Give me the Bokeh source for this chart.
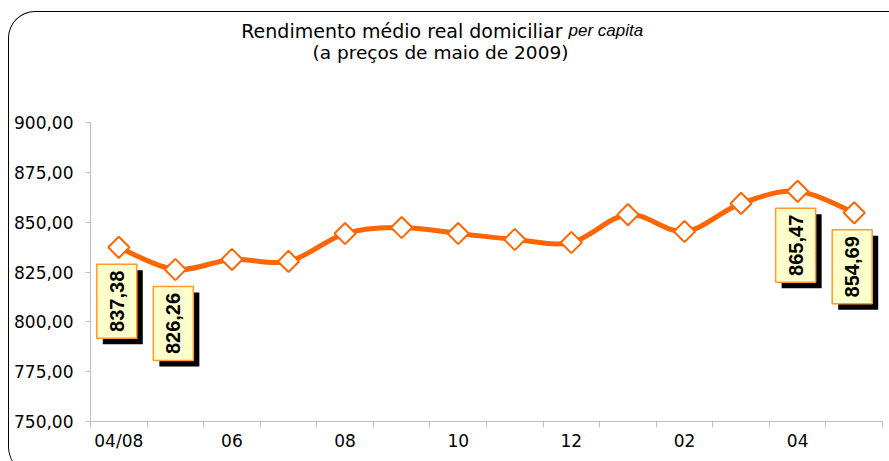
import numpy as np
from bokeh.plotting import figure
from bokeh.layouts import column
from bokeh.models import FixedTicker, Range1d, InlineStyleSheet
from bokeh.core.properties import value
from bokeh.embed import file_html
from bokeh.resources import INLINE

# ---- data ----
months = ["04/08", "05", "06", "07", "08", "09", "10", "11", "12", "01", "02", "03", "04", "05"]
income = [837.38, 826.26, 831.3, 830.3, 844.3, 847.3, 844.3, 841.3, 839.8, 853.8, 845.3, 859.4, 865.47, 854.69]
labeled_idx = [0, 1, 12, 13]
label_texts = ["837,38", "826,26", "865,47", "854,69"]
x_tick_idx = [0, 2, 4, 6, 8, 10, 12]
y_ticks = [750, 775, 800, 825, 850, 875, 900]
y_tick_labels = ["750,00", "775,00", "800,00", "825,00", "850,00", "875,00", "900,00"]
title_main = "Rendimento médio real domiciliar"
title_italic = "per capita"
title_sub = "(a preços de maio de 2009)"

# ---- geometry ----
W = 889
TH = 100           # title strip height
H = 361            # main chart height
FL, FT = 90, 22
FW, FH = 792, 299
X0, X1 = -0.5, len(months) - 0.5
Y0, Y1 = 750, 900
ux = FW / (X1 - X0)
uy = FH / (Y1 - Y0)

ORANGE = "#FF6600"
AXIS_GREY = "#BFBFBF"

# ---- title strip (same horizontal frame as the chart; x in page pixels) ----
t = figure(width=W, height=TH, x_range=Range1d(FL, FL + FW), y_range=Range1d(TH, 0),
           min_border_left=FL, min_border_right=W - FL - FW, min_border_top=0,
           min_border_bottom=0, x_axis_type=None, y_axis_type=None,
           output_backend="svg", toolbar_location=None)
t.outline_line_color = None
t.xgrid.visible = False
t.ygrid.visible = False
t.text(x=[562], y=[30], text=[title_main], text_align="right", text_baseline="middle",
       text_font=value("DejaVu Sans"), text_font_size="19px", text_color="black")
t.text(x=[568], y=[30], text=[title_italic], text_align="left", text_baseline="middle",
       text_font=value("Liberation Sans"), text_font_style="italic",
       text_font_size="17px", text_color="black")
t.text(x=[440], y=[52], text=[title_sub], text_align="center", text_baseline="middle",
       text_font=value("DejaVu Sans"), text_font_size="18.5px", text_color="black")

# ---- main chart ----
p = figure(width=W, height=H, x_range=Range1d(X0, X1), y_range=Range1d(Y0, Y1),
           min_border_left=FL, min_border_right=W - FL - FW,
           min_border_top=FT, min_border_bottom=H - FT - FH,
           output_backend="svg", toolbar_location=None)
p.outline_line_color = None
p.xgrid.visible = False
p.ygrid.visible = False

p.xaxis.ticker = FixedTicker(ticks=x_tick_idx, minor_ticks=[i - 0.5 for i in range(len(months) + 1)])
p.xaxis.major_label_overrides = {i: months[i] for i in x_tick_idx}
p.xaxis.major_tick_out = 0
p.xaxis.major_tick_in = 0
p.xaxis.minor_tick_out = 6
p.xaxis.minor_tick_in = 0
p.xaxis.major_label_standoff = 3

p.yaxis.ticker = FixedTicker(ticks=y_ticks, minor_ticks=[])
p.yaxis.major_label_overrides = {tk: lb for tk, lb in zip(y_ticks, y_tick_labels)}
p.yaxis.major_tick_out = 5
p.yaxis.major_tick_in = 0
p.yaxis.minor_tick_out = 0
p.yaxis.minor_tick_in = 0
p.yaxis.major_label_standoff = 12

for ax in (p.xaxis, p.yaxis):
    ax.axis_line_color = AXIS_GREY
    ax.major_tick_line_color = AXIS_GREY
    ax.minor_tick_line_color = AXIS_GREY
    ax.major_label_text_font = "DejaVu Sans"
    ax.major_label_text_font_size = "17px"
    ax.major_label_text_color = "black"

xs = np.arange(len(months), dtype=float)
ys = np.array(income, dtype=float)

# smoothed line: Bezier segments with Catmull-Rom control points (Excel-style smoothing)
xp = np.concatenate([[xs[0]], xs, [xs[-1]]])
yp = np.concatenate([[ys[0]], ys, [ys[-1]]])
n = len(xs)
cx0 = xs[:-1] + (xp[2:n + 1] - xp[0:n - 1]) / 6
cy0 = ys[:-1] + (yp[2:n + 1] - yp[0:n - 1]) / 6
cx1 = xs[1:] - (xp[3:n + 2] - xp[1:n]) / 6
cy1 = ys[1:] - (yp[3:n + 2] - yp[1:n]) / 6
p.bezier(x0=xs[:-1], y0=ys[:-1], x1=xs[1:], y1=ys[1:], cx0=cx0, cy0=cy0, cx1=cx1, cy1=cy1,
         line_color=ORANGE, line_width=5)

p.scatter(x=xs, y=ys, marker="square", size=15, angle=np.pi / 4,
          fill_color="white", line_color=ORANGE, line_width=2)

# data labels (boxes with drop shadow, vertical bold text)
bx = [i - 2 / ux for i in labeled_idx]
by = [income[i] - 54 / uy for i in labeled_idx]
p.rect(x=[b + 6 / ux for b in bx], y=[b - 6 / uy for b in by], width=40, height=74,
       width_units="screen", height_units="screen", fill_color="black", line_color=None)
p.rect(x=bx, y=by, width=40, height=74, width_units="screen", height_units="screen",
       fill_color="#FFFFCC", line_color="#FF9933", line_width=1.5)
p.text(x=bx, y=by, text=label_texts, angle=np.pi / 2, text_font=value("Liberation Sans"),
       text_font_style="bold", text_font_size="20px", text_align="center",
       text_baseline="middle", text_color="black")

# rounded outer border of the chart area (CSS decoration)
border_css = InlineStyleSheet(css="""
:host { position: relative; overflow: hidden; }
:host::before {
  content: ""; position: absolute; left: 8px; top: 11px; width: 1000px; height: 462px;
  border-top: 1.2px solid #000; border-left: 1.2px solid #000;
  border-top-left-radius: 27px; border-bottom-left-radius: 27px;
  z-index: 5; pointer-events: none;
}
""")

layout = column(t, p, spacing=0, stylesheets=[border_css])

open("out.html", "w").write(file_html(layout, INLINE))
